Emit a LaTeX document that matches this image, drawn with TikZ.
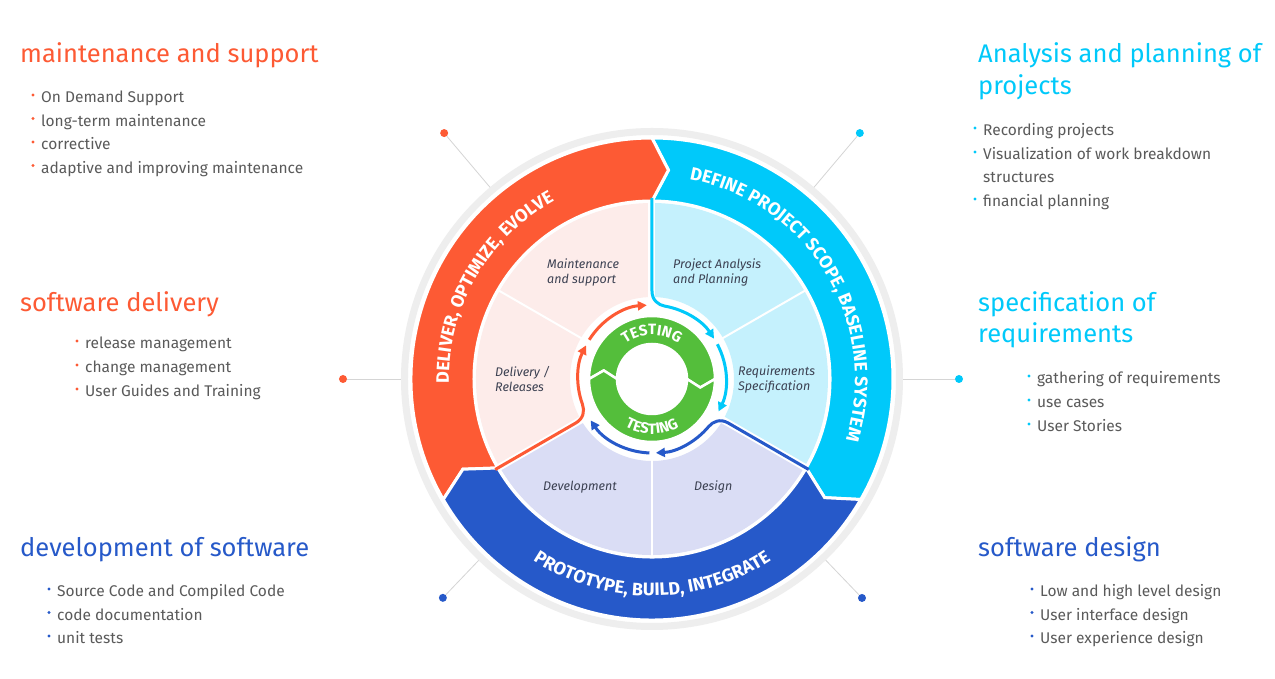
\documentclass[tikz,border=0pt]{standalone}
\usepackage{fontspec}
\setmainfont{Fira Sans}
\usepackage{tikz}
\usetikzlibrary{arrows.meta,calc,decorations.text}
\definecolor{cOr}  {HTML}{FD5A34}
\definecolor{cCy}  {HTML}{00C9FA}
\definecolor{cBl}  {HTML}{2659C9}
\definecolor{cGr}  {HTML}{54BE3B}
\definecolor{pOr}  {HTML}{FDECEA}
\definecolor{pCy}  {HTML}{C5F1FD}
\definecolor{pBl}  {HTML}{DADDF5}
\definecolor{cTxt} {HTML}{5A5A5A}
\definecolor{cSec} {HTML}{3C4152}
\definecolor{cRim} {HTML}{EEEEEE}
\definecolor{cLead}{HTML}{D5D5D5}
\tikzset{
  ttl/.style    ={anchor=base west,inner sep=0pt,font=\fontsize{25.5}{30}\selectfont},
  itm/.style    ={anchor=base west,inner sep=0pt,font=\fontsize{15.5}{18}\selectfont,text=cTxt},
  secTxt/.style ={anchor=west,align=left,inner sep=0pt,text=cSec,
                  font=\fontsize{12.5}{15}\selectfont\itshape},
  bdot/.style   ={circle,inner sep=0pt,minimum size=8pt},
  leadln/.style ={draw=cLead,line width=0.8pt},
  sepw/.style   ={draw=white,line width=2pt},
  gapw/.style   ={draw=white,line width=7pt},
  arr/.style    ={line width=3pt,-{Triangle[length=9pt,width=9pt]}},
  ringtxt/.style={decorate,decoration={text along path,text align=center,text color=white}},
}
% ring piece with a chevron at its clockwise end: r1 r2 a1 a2 tip options
\newcommand{\chevseg}[6]{%
  \filldraw[#6] (#3:#2) arc[start angle=#3,end angle=#4,radius=#2]
    -- ({#4-#5}:{(#1+#2)/2}) -- (#4:#1)
    arc[start angle=#4,end angle=#3,radius=#1]
    -- ({#3-#5}:{(#1+#2)/2}) -- cycle;}
\newcommand{\ringfont}{\fontsize{18}{18}\selectfont\bfseries}
\newcommand{\testfont}{\fontsize{15}{15}\selectfont\bfseries}

\begin{document}
\begin{tikzpicture}[x=1pt,y=1pt]
\fill[white,use as bounding box] (-652,-300) rectangle (623,379);

\draw[cRim,line width=7pt] (0,0) circle (247.5);

% inner sectors, one group of two per colour
\foreach \rot/\pal in {0/pCy,120/pOr,240/pBl}{
  \fill[\pal,rotate=\rot] (90:82) -- (90:176) arc[start angle=90,end angle=-30,radius=176]
    -- (-30:82) arc[start angle=-30,end angle=90,radius=82] -- cycle;}
\foreach \a in {30,150,270} \draw[sepw] (\a:80) -- (\a:178);
\foreach \a in {90,210,330} \draw[gapw] (\a:80) -- (\a:178);

% outer ring
\foreach \rot/\col in {0/cCy,120/cOr,240/cBl}{
  \begin{scope}[rotate=\rot]
    \chevseg{178}{241}{90}{-30}{4.5}{fill=\col,draw=white,line width=3pt}
  \end{scope}}

% group borders turning into the arrows round the testing ring
\foreach \rot/\col in {0/cCy,120/cOr,240/cBl}{
  \begin{scope}[rotate=\rot]
    \draw[arr,draw=\col] (90:181) -- (90:88) .. controls (90:79) and (6,74.1) .. (80:74)
      arc[start angle=80,end angle=33,radius=74];
    \draw[arr,draw=\col] (28:74) arc[start angle=28,end angle=-26,radius=74];
  \end{scope}}

\path[ringtxt,decoration={text={|\ringfont|DEFINE PROJECT SCOPE, BASELINE SYSTEM}}]
  (88:203) arc[start angle=88,end angle=-26,radius=203];
\path[ringtxt,decoration={text={|\ringfont|DELIVER, OPTIMIZE, EVOLVE}}]
  (195:203) arc[start angle=195,end angle=105,radius=203];
\path[ringtxt,decoration={text={|\ringfont|PROTOTYPE, BUILD, INTEGRATE}}]
  (228:217) arc[start angle=228,end angle=312,radius=217];

% testing ring
\chevseg{35}{63}{180}{0}{10}{fill=cGr,draw=white,line width=2.5pt}
\chevseg{35}{63}{360}{180}{10}{fill=cGr,draw=white,line width=2.5pt}
\path[ringtxt,decoration={text={|\testfont|TESTING}}]
  (155:44) arc[start angle=155,end angle=25,radius=44];
\path[ringtxt,decoration={text={|\testfont|TESTING}}]
  (205:55) arc[start angle=205,end angle=335,radius=55];

\node[secTxt] (sMaint) at (-105,107) {Maintenance\\and support};
\node[secTxt] (sProj)  at (21,107)   {Project Analysis\\and Planning};
\node[secTxt] (sDeliv) at (-157,0)   {Delivery /\\Releases};
\node[secTxt] (sReq)   at (86,0)     {Requirements\\Specification};
\node[secTxt] (sDev)   at (-109,-108) {Development};
\node[secTxt] (sDes)   at (42,-108)  {Design};

% leader dots
\foreach \n/\ang/\rad/\col in {dMs/130.2/322/cOr,dSd/180/309/cOr,dDv/226.3/302.7/cBl,
                               dAp/49.8/322/cCy,dSr/0/307/cCy,dSw/313.8/303.4/cBl}{
  \node[bdot,fill=\col] (\n) at (\ang:\rad) {};
  \coordinate (\n-e) at (\ang:251);
  \draw[leadln] (\n) -- (\n-e);}

% text columns
\node[ttl,text=cOr] (tMs) at (-632,316) {maintenance and support};
\foreach \t [count=\i] in {On Demand Support,long-term maintenance,corrective,
                           adaptive and improving maintenance}{
  \node[itm] (ms\i) at (-611,{276-23.5*(\i-1)}) {\t};
  \fill[cOr] ($(ms\i.base west)+(-8,8)$) circle (1.7);}

\node[ttl,text=cOr] (tSd) at (-632,67) {software delivery};
\foreach \t [count=\i] in {release management,change management,User Guides and Training}{
  \node[itm] (sd\i) at (-567,{30-24*(\i-1)}) {\t};
  \fill[cOr] ($(sd\i.base west)+(-8,8)$) circle (1.7);}

\node[ttl,text=cBl] (tDv) at (-632,-178) {development of software};
\foreach \t [count=\i] in {Source Code and Compiled Code,code documentation,unit tests}{
  \node[itm] (dv\i) at (-595,{-218-23.5*(\i-1)}) {\t};
  \fill[cBl] ($(dv\i.base west)+(-8,8)$) circle (1.7);}

\node[ttl,text=cCy] (tAp)  at (326,316) {Analysis and planning of};
\node[ttl,text=cCy] (tAp2) at (326,284) {projects};
\foreach \t/\y [count=\i] in {Recording projects/243,Visualization of work breakdown/219,
                              financial planning/172}{
  \node[itm] (ap\i) at (331,\y) {\t};
  \fill[cCy] ($(ap\i.base west)+(-8,8)$) circle (1.7);}
\node[itm] (apCont) at (331,196) {structures};

\node[ttl,text=cCy] (tSr)  at (326,67) {specification of};
\node[ttl,text=cCy] (tSr2) at (326,36) {requirements};
\foreach \t [count=\i] in {gathering of requirements,use cases,User Stories}{
  \node[itm] (sr\i) at (385,{-5-24*(\i-1)}) {\t};
  \fill[cCy] ($(sr\i.base west)+(-8,8)$) circle (1.7);}

\node[ttl,text=cBl] (tSw) at (326,-178) {software design};
\foreach \t [count=\i] in {Low and high level design,User interface design,User experience design}{
  \node[itm] (sw\i) at (388,{-218-23.5*(\i-1)}) {\t};
  \fill[cBl] ($(sw\i.base west)+(-8,8)$) circle (1.7);}
\end{tikzpicture}
\end{document}
